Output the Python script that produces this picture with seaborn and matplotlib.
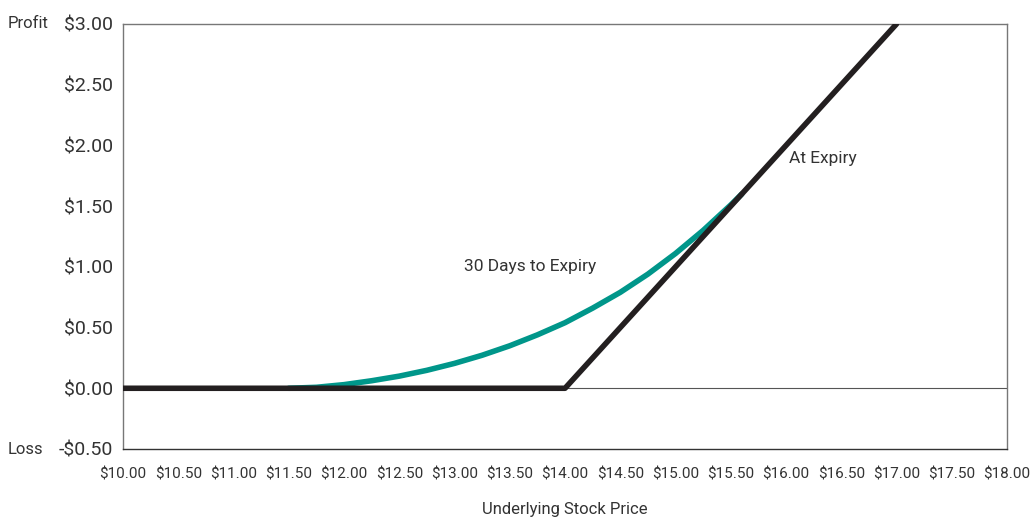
import matplotlib
matplotlib.use("Agg")
import matplotlib.pyplot as plt
import seaborn as sns
import pandas as pd

# At expiry payoff
expiry_price = [10.0, 14.0, 17.0]
expiry_profit = [0.0, 0.0, 3.0]

# 30 days to expiry
days30_price = [11.5, 11.75, 12.0, 12.25, 12.5, 12.75, 13.0, 13.25, 13.5, 13.75,
                14.0, 14.25, 14.5, 14.75, 15.0, 15.25, 15.5, 15.6]
days30_profit = [0.0, 0.008, 0.03, 0.062, 0.10, 0.148, 0.205, 0.272, 0.35, 0.44,
                 0.54, 0.66, 0.79, 0.94, 1.11, 1.30, 1.51, 1.60]

x_ticks = [10 + 0.5 * i for i in range(17)]
y_ticks = [-0.5, 0.0, 0.5, 1.0, 1.5, 2.0, 2.5, 3.0]

sns.set_style("white")
plt.rcParams['font.family'] = ['Roboto', 'DejaVu Sans']

fig = plt.figure(figsize=(10.32, 5.19), dpi=100)
ax = fig.add_axes([0.1192, 0.1349, 0.8566, 0.8189])

ax.axhline(0, color='#555555', lw=0.8, zorder=1)

df30 = pd.DataFrame({'price': days30_price, 'profit': days30_profit})
dfexp = pd.DataFrame({'price': expiry_price, 'profit': expiry_profit})
sns.lineplot(data=df30, x='price', y='profit', color='#00968a', lw=4, ax=ax, zorder=2)
sns.lineplot(data=dfexp, x='price', y='profit', color='#231f20', lw=4, ax=ax, zorder=3)

ax.set_xlim(10, 18)
ax.set_ylim(-0.5, 3.0)
ax.set_xticks(x_ticks)
ax.set_xticklabels([f"${v:.2f}" for v in x_ticks], fontsize=11, color='#333333')
ax.set_yticks(y_ticks)
ax.set_yticklabels([f"-${abs(v):.2f}" if v < 0 else f"${v:.2f}" for v in y_ticks],
                   fontsize=14, color='#333333')
ax.tick_params(axis='x', direction='out', length=8, width=1, color='#333333', pad=5)
ax.tick_params(axis='y', direction='out', length=6, width=1, color='#333333', pad=1)

for side in ['top', 'left', 'right']:
    ax.spines[side].set_color('#777777')
    ax.spines[side].set_linewidth(1)
ax.spines['bottom'].set_color('#333333')
ax.spines['bottom'].set_linewidth(1)

ax.set_xlabel('Underlying Stock Price', fontsize=12, color='#333333', labelpad=15)
ax.set_ylabel('')

ax.text(13.68, 1.0, '30 Days to Expiry', fontsize=12.5, color='#333333', ha='center', va='center')
ax.text(16.33, 1.89, 'At Expiry', fontsize=12.5, color='#333333', ha='center', va='center')

fig.text(8 / 1032, 1 - 24 / 519, 'Profit', fontsize=12, color='#333333', ha='left', va='center')
fig.text(8 / 1032, 1 - 450 / 519, 'Loss', fontsize=12, color='#333333', ha='left', va='center')

fig.savefig('out.png', dpi=100)
